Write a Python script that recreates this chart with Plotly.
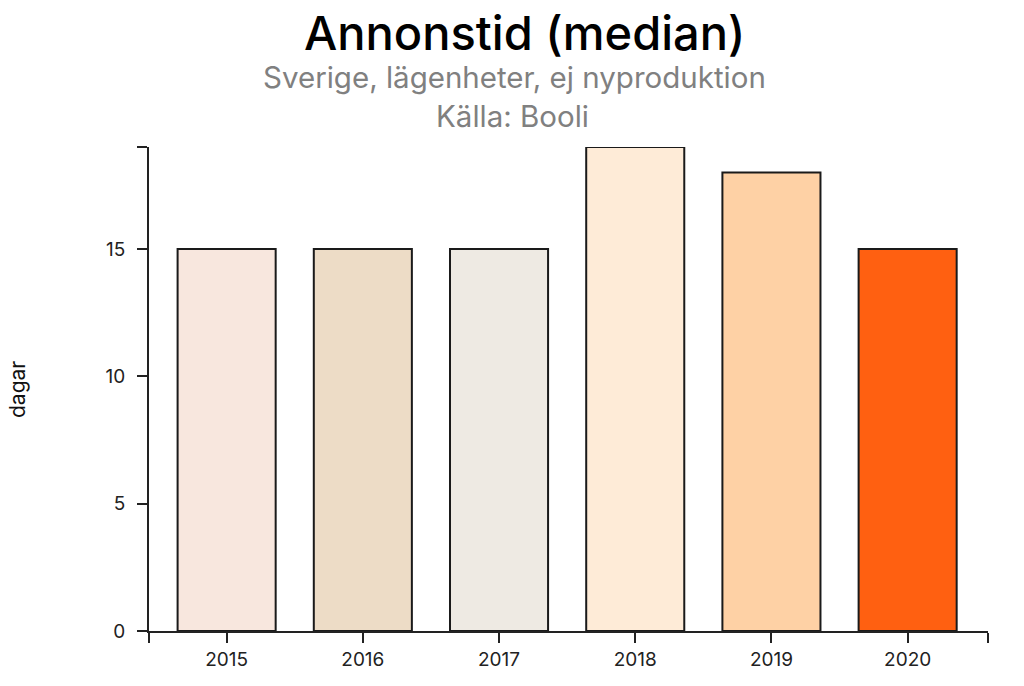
import plotly.graph_objects as go

years = ["2015", "2016", "2017", "2018", "2019", "2020"]
days = [15, 15, 15, 19, 18, 15]
colors = ["#F8E7DE", "#EDDCC6", "#EEEAE3", "#FEEBD7", "#FED1A5", "#FF6011"]
y_ticks = [0, 5, 10, 15, 19]
y_tick_text = ["0", "5", "10", "15", ""]

FONT = "Inter, Roboto, sans-serif"
xpos = list(range(len(years)))
x_lo, x_hi = -0.57, len(years) - 1 + 0.59

W, H = 1024, 686
l, r, t, b = 149, 36, 147, 55
pw, ph = W - l - r, H - t - b

def px(xp):
    return (xp - l) / pw

def py(yp):
    return (H - b - yp) / ph

fig = go.Figure(go.Bar(
    x=xpos, y=days, width=0.72,
    marker=dict(color=colors, line=dict(color="#1a1a1a", width=2)),
    hoverinfo="x+y",
))

fig.update_layout(
    width=W, height=H,
    margin=dict(l=l, r=r, t=t, b=b),
    paper_bgcolor="white", plot_bgcolor="white",
    showlegend=False,
    font=dict(family=FONT, color="#222222", size=19),
    xaxis=dict(
        range=[x_lo, x_hi],
        tickvals=[x_lo] + xpos + [x_hi],
        ticktext=[""] + years + [""],
        ticks="outside", ticklen=10, tickwidth=2, tickcolor="#222222",
        showline=True, linecolor="#222222", linewidth=2,
        showgrid=False, zeroline=False,
        tickfont=dict(size=19, color="#222222"),
    ),
    yaxis=dict(
        range=[0, 19],
        tickvals=y_ticks, ticktext=y_tick_text,
        ticks="outside", ticklen=10, tickwidth=2, tickcolor="#222222",
        showline=True, linecolor="#222222", linewidth=2,
        showgrid=False, zeroline=False,
        ticklabelstandoff=8,
        tickfont=dict(size=19, color="#222222"),
    ),
)

anns = [
    dict(text="Annonstid (median)", x=px(524), y=py(32),
         font=dict(size=47, color="#000000", family=FONT, weight=500)),
    dict(text="Sverige, lägenheter, ej nyproduktion", x=px(514), y=py(77),
         font=dict(size=29.5, color="#808080", family=FONT)),
    dict(text="Källa: Booli", x=px(512), y=py(116),
         font=dict(size=29.5, color="#808080", family=FONT)),
    dict(text="dagar", x=px(17), y=py(390), textangle=-90,
         font=dict(size=21, color="#111111", family=FONT)),
]
for a in anns:
    fig.add_annotation(xref="paper", yref="paper", showarrow=False,
                       xanchor="center", yanchor="middle", **a)

fig.write_html("out.html",
               config={"displayModeBar": False},
               post_script="document.body.style.margin='0';document.body.style.overflow='hidden';")
